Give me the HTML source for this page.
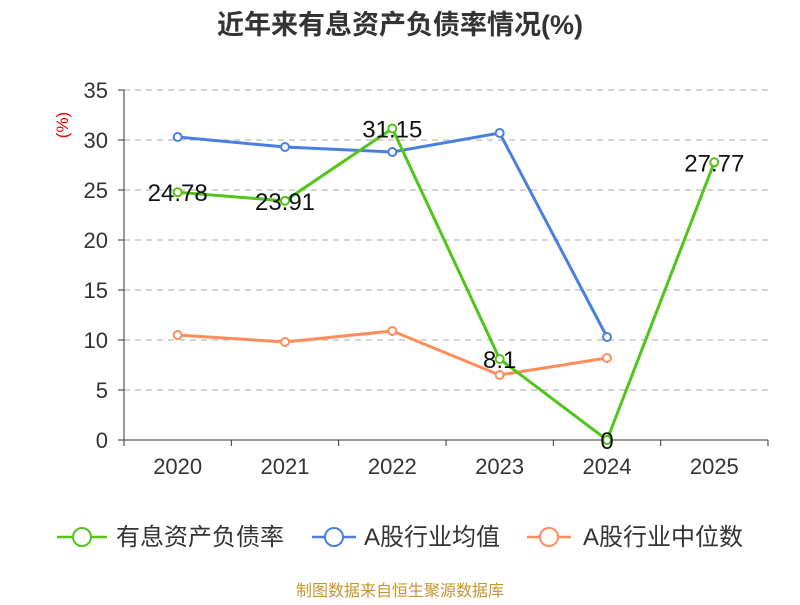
<!DOCTYPE html>
<html><head><meta charset="utf-8"><style>
body{margin:0;background:#fff;font-family:"Liberation Sans","Noto Sans CJK SC",sans-serif}
</style></head><body>
<svg width="800" height="600" xmlns="http://www.w3.org/2000/svg" style="font-family:'Liberation Sans','Noto Sans CJK SC',sans-serif">
<text x="400" y="34" text-anchor="middle" font-size="27" font-weight="bold" fill="#333">近年来有息资产负债率情况(%)</text>
<text transform="translate(68,125) rotate(-90)" text-anchor="middle" font-size="17" fill="#e00">(%)</text>
<g id="grid"></g><g id="axes"></g><g id="series"></g>
<g>
<g><line x1="57" y1="537" x2="107" y2="537" stroke="#52c41a" stroke-width="2.5"/><circle cx="82" cy="537" r="9" fill="#fff" stroke="#52c41a" stroke-width="2"/><text x="116" y="545" font-size="24" fill="#333">有息资产负债率</text></g>
<g><line x1="312" y1="537" x2="356" y2="537" stroke="#4a7fe0" stroke-width="2.5"/><circle cx="334" cy="537" r="9" fill="#fff" stroke="#4a7fe0" stroke-width="2"/><text x="364" y="545" font-size="24" fill="#333">A股行业均值</text></g>
<g><line x1="527" y1="537" x2="571" y2="537" stroke="#ff8c5a" stroke-width="2.5"/><circle cx="549" cy="537" r="9" fill="#fff" stroke="#ff8c5a" stroke-width="2"/><text x="583" y="545" font-size="24" fill="#333">A股行业中位数</text></g>
</g>
<text x="400" y="596" text-anchor="middle" font-size="16" fill="#c8952a">制图数据来自恒生聚源数据库</text>
</svg>
<script>
const categories=["2020","2021","2022","2023","2024","2025"];
const yTicks=[0,5,10,15,20,25,30,35];
const debtRatio=[24.78,23.91,31.15,8.1,0,27.77];
const debtLabels=["24.78","23.91","31.15","8.1","0","27.77"];
const industryAvg=[30.3,29.3,28.8,30.7,10.3,null];
const industryMedian=[10.5,9.8,10.9,6.5,8.2,null];
const NS="http://www.w3.org/2000/svg";
const L=124,R=768,T=90,B=440,ymax=35;
const bw=(R-L)/categories.length;
const x=i=>L+bw*(i+0.5);
const y=v=>B-(v/ymax)*(B-T);
function mk(tag,attrs,parent,text){const e=document.createElementNS(NS,tag);for(const k in attrs)e.setAttribute(k,attrs[k]);if(text!=null)e.textContent=text;parent.appendChild(e);return e;}
const grid=document.getElementById('grid'),axes=document.getElementById('axes'),ser=document.getElementById('series');
yTicks.forEach(t=>{
 if(t>0){const g=mk('line',{x1:L,x2:R,y1:y(t),y2:y(t),stroke:'#bbb','stroke-width':1.3,'stroke-dasharray':'6,5'},grid);
 
 }
 mk('line',{x1:L-6,x2:L,y1:y(t),y2:y(t),stroke:'#333'},axes);
 const tl=mk('text',{x:L-16,y:y(t)+8,'text-anchor':'end','font-size':22,fill:'#333'},axes,t);
 
 
});
mk('line',{x1:L,x2:L,y1:T,y2:B,stroke:'#333'},axes);
mk('line',{x1:L,x2:R,y1:B,y2:B,stroke:'#333'},axes);
for(let i=0;i<=categories.length;i++)mk('line',{x1:L+bw*i,x2:L+bw*i,y1:B,y2:B+6,stroke:'#333'},axes);
categories.forEach((c,i)=>{const t=mk('text',{x:x(i),y:B+34,'text-anchor':'middle','font-size':22,fill:'#333'},axes,c);
 
 });
function series(vals,color,name){
 const g=mk('g',{},ser);
 
 
 const pts=vals.map((v,i)=>v==null?null:[x(i),y(v)]).filter(p=>p);
 mk('polyline',{points:pts.map(p=>p.join(',')).join(' '),fill:'none',stroke:color,'stroke-width':3},g);
 vals.forEach((v,i)=>{if(v==null)return;const c=mk('circle',{cx:x(i),cy:y(v),r:4,fill:'#fff',stroke:color,'stroke-width':2},g);
  
  });
 return g;
}
series(industryMedian,'#ff8c5a','industry-median-line');
series(industryAvg,'#4a7fe0','industry-avg-line');
const dg=series(debtRatio,'#52c41a','debt-ratio-line');
debtRatio.forEach((v,i)=>{const t=mk('text',{x:x(i),y:y(v)+9,'text-anchor':'middle','font-size':24,fill:'#111'},dg,debtLabels[i]);
 
 });
</script>
</body></html>
